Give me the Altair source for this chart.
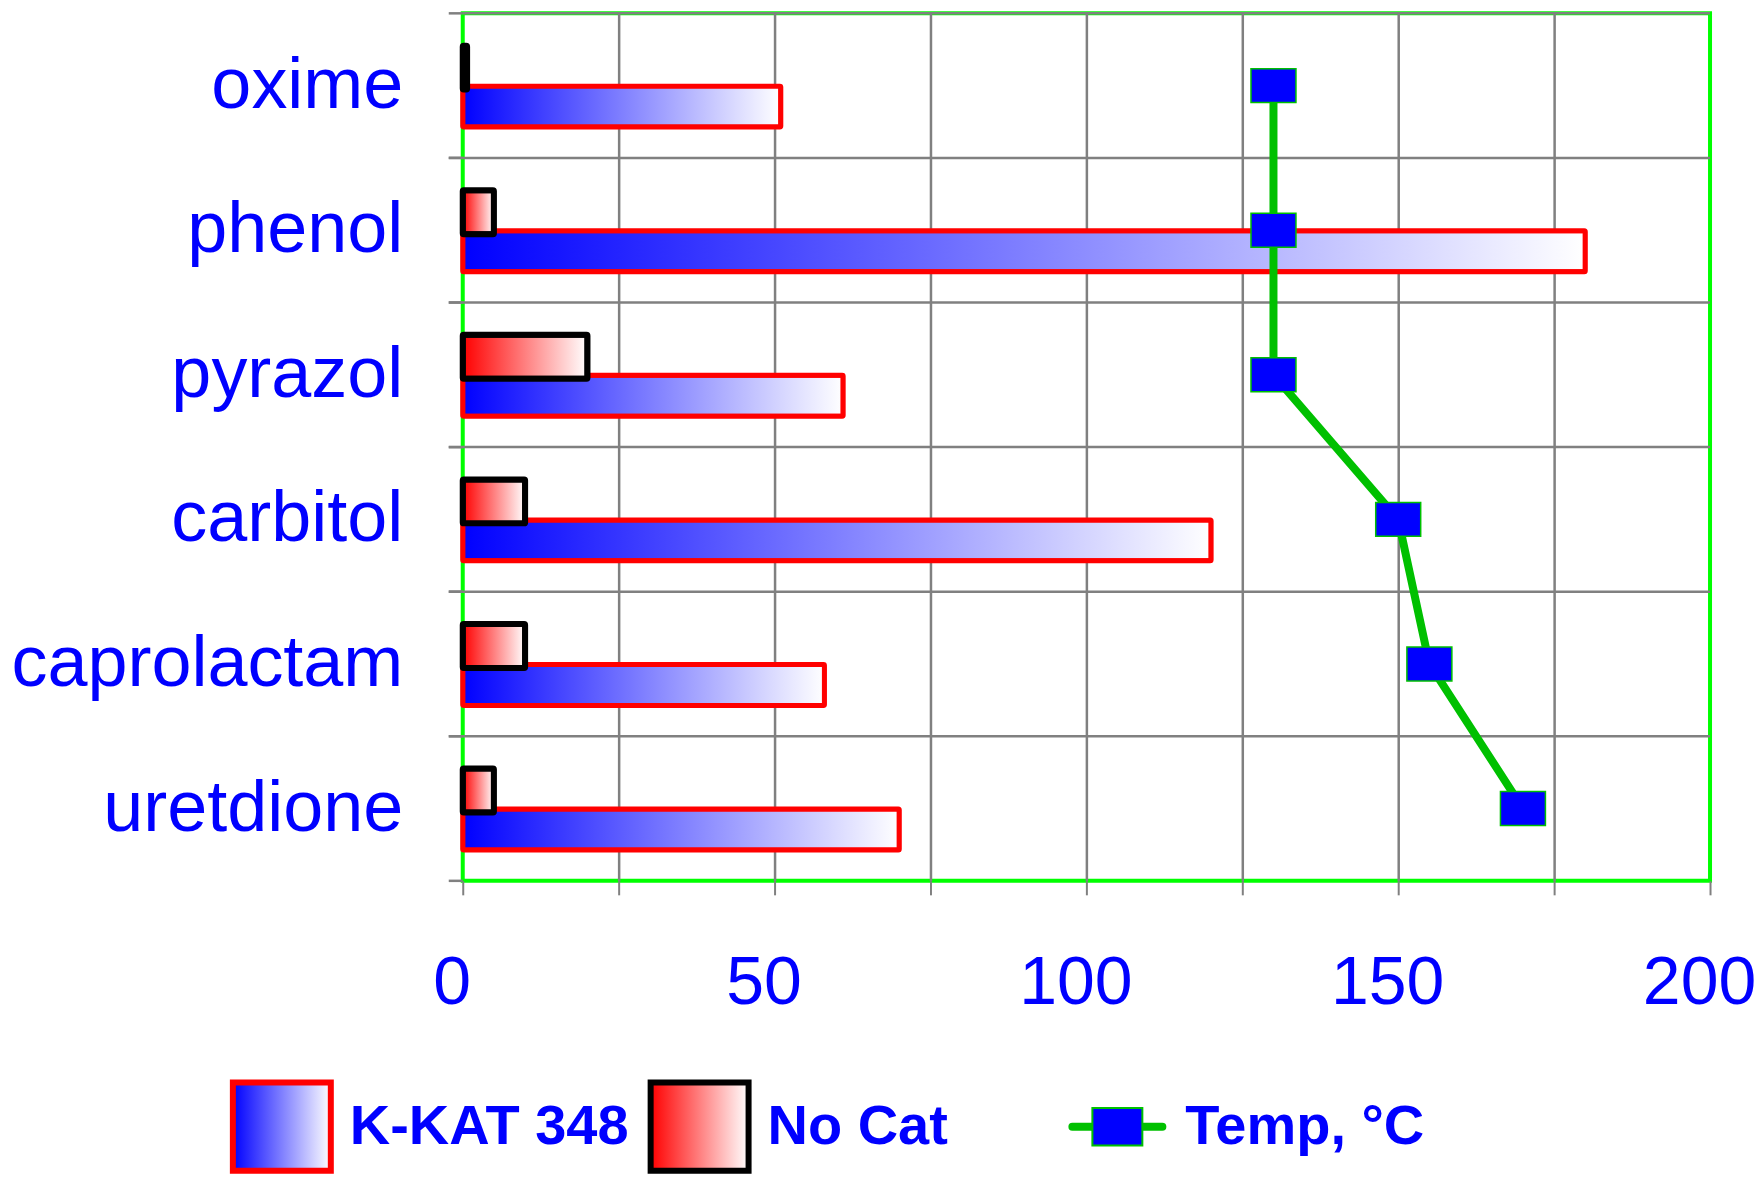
import altair as alt
import pandas as pd

categories = ["oxime", "phenol", "pyrazol", "carbitol", "caprolactam", "uretdione"]
kkat_values = [51, 180, 61, 120, 58, 70]
nocat_values = [0.7, 5, 20, 10, 10, 5]
temp_values = [130, 130, 130, 150, 155, 170]
x_ticks = [0, 25, 50, 75, 100, 125, 150, 175, 200]
legend_labels = ["K-KAT 348", "No Cat", "Temp, °C"]

FONT = "Liberation Sans"
BLUE = "#0000ff"
GRAY = "#808080"

df = pd.DataFrame({
    "cat": categories,
    "kkat": kkat_values,
    "nocat": nocat_values,
    "temp": temp_values,
    "idx": list(range(len(categories))),
})
leg = pd.DataFrame({"label": legend_labels})

grad_blue = alt.Gradient(gradient="linear",
                         stops=[alt.GradientStop(color="#0000ff", offset=0),
                                alt.GradientStop(color="#ffffff", offset=1)],
                         x1=0, x2=1, y1=0, y2=0)
grad_red = alt.Gradient(gradient="linear",
                        stops=[alt.GradientStop(color="#ff0000", offset=0),
                               alt.GradientStop(color="#ffffff", offset=1)],
                        x1=0, x2=1, y1=0, y2=0)

yaxis = alt.Axis(title=None, ticks=False, domain=False, grid=False,
                 labelFontSize=72, labelColor=BLUE, labelFont=FONT,
                 labelPadding=60, labelLimit=1000)
yscale = alt.Scale(domain=categories, paddingInner=0, paddingOuter=0)
Y = alt.Y("cat:N", sort=categories, scale=yscale, axis=yaxis)

xaxis = alt.Axis(values=x_ticks, title=None, domain=False, grid=True,
                 labelExpr="datum.value % 50 === 0 ? datum.label : ''",
                 tickColor=GRAY, tickWidth=2, tickSize=14,
                 gridColor=GRAY, gridWidth=2.5,
                 gridOpacity={"condition": {"test": "datum.value === 0 || datum.value === 200", "value": 0}, "value": 1},
                 labelFontSize=68, labelColor=BLUE, labelFont=FONT,
                 labelPadding=55, labelOffset=-11, labelFlush=False, labelOverlap=False)
xscale = alt.Scale(domain=[0, 200], nice=False, zero=True)

base = alt.Chart(df)

hrules = base.mark_rule(color=GRAY, strokeWidth=2.5).encode(
    y=alt.Y("cat:N", sort=categories, scale=yscale, axis=yaxis, bandPosition=0)
)
stubs_top = base.mark_tick(orient="horizontal", size=14, thickness=2.5,
                           xOffset=-7, color=GRAY, opacity=1).encode(
    x=alt.datum(0, scale=xscale, axis=xaxis),
    y=alt.Y("cat:N", sort=categories, scale=yscale, axis=yaxis, bandPosition=0)
)
stubs_bot = base.mark_tick(orient="horizontal", size=14, thickness=2.5,
                           xOffset=-7, color=GRAY, opacity=1).encode(
    x=alt.datum(0, scale=xscale, axis=xaxis),
    y=alt.Y("cat:N", sort=categories, scale=yscale, axis=yaxis, bandPosition=1)
)

kkat = base.mark_bar(fill=grad_blue, stroke="#ff0000", strokeWidth=5,
                     height=41, yOffset=21, cornerRadius=1).encode(
    x=alt.X("kkat:Q", scale=xscale, axis=xaxis), y=Y
)
nocat = base.mark_bar(fill=grad_red, stroke="#000000", strokeWidth=6,
                      height=44, yOffset=-18, cornerRadius=1).encode(
    x=alt.X("nocat:Q", scale=xscale, axis=xaxis), y=Y
)
rect_path = "M-1,-0.755L1,-0.755L1,0.755L-1,0.755Z"
line = base.mark_line(color="#00c000", strokeWidth=8).encode(
    x=alt.X("temp:Q", scale=xscale, axis=xaxis), y=Y, order=alt.Order("idx:Q")
)
pts = base.mark_point(shape=rect_path, size=2025, filled=True, fill=BLUE,
                      stroke="#00c000", strokeWidth=1.5, opacity=1).encode(
    x=alt.X("temp:Q", scale=xscale, axis=xaxis), y=Y
)

main = alt.layer(hrules, stubs_top, stubs_bot, kkat, nocat, line, pts).properties(
    width=1248, height=868,
    view=alt.ViewBackground(stroke="#00ff00", strokeWidth=4)
)

# legend
LX = alt.X("label:N", sort=legend_labels,
           scale=alt.Scale(type="point", domain=legend_labels, range=[-181, 655], padding=0),
           axis=None)
lbase = alt.Chart(leg)
box_path = "M-1,-0.9L1,-0.9L1,0.9L-1,0.9Z"
l_kkat = lbase.transform_filter(alt.datum.label == "K-KAT 348").mark_point(
    shape=box_path, size=9604, filled=True, fill=grad_blue, stroke="#ff0000",
    strokeWidth=6, opacity=1).encode(x=LX)
l_nocat = lbase.transform_filter(alt.datum.label == "No Cat").mark_point(
    shape=box_path, size=9604, filled=True, fill=grad_red, stroke="#000000",
    strokeWidth=6, opacity=1).encode(x=LX)
l_line = lbase.transform_filter(alt.datum.label == "Temp, °C").mark_point(
    shape="M-1,0L1,0", size=8100, filled=False, stroke="#00c000",
    strokeWidth=8, strokeCap="round", opacity=1).encode(x=LX)
l_pt = lbase.transform_filter(alt.datum.label == "Temp, °C").mark_point(
    shape="M-1,-0.75L1,-0.75L1,0.75L-1,0.75Z", size=2500, filled=True, fill=BLUE,
    stroke="#00c000", strokeWidth=2, opacity=1).encode(x=LX)
l_text = lbase.mark_text(align="left", baseline="middle", dx=68, fontSize=56,
                         fontWeight="bold", color=BLUE, font=FONT).encode(
    x=LX, text="label:N")

legend = alt.layer(l_kkat, l_nocat, l_line, l_pt, l_text).properties(
    width=1000, height=94,
    view=alt.ViewBackground(strokeWidth=0, strokeOpacity=0)
)

chart = alt.vconcat(main, legend, spacing=50).properties(
    padding={"left": 0, "top": 1, "right": -2, "bottom": 0}
).configure_view(strokeWidth=0).configure(font=FONT)

chart.save("out.html", embed_options={"renderer": "svg", "actions": False})
